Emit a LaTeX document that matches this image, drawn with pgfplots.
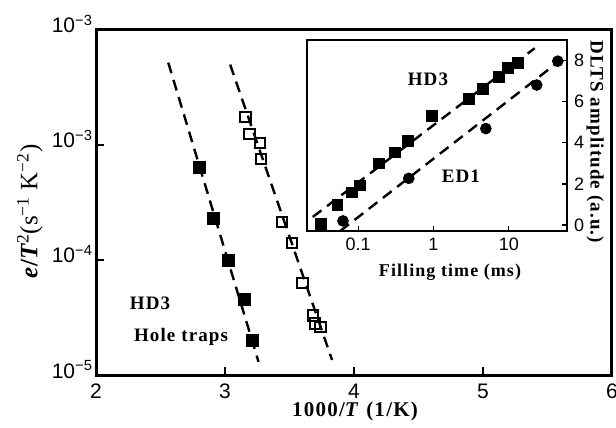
\documentclass[border=0pt]{standalone}
\usepackage{fontspec}
\setmainfont{Liberation Serif}
\newfontfamily\sansf{Liberation Sans}
\newfontfamily\lblf[LetterSpace=6]{Liberation Serif}
\usepackage{pgfplots}
\pgfplotsset{compat=1.18}
\begin{document}
\begin{tikzpicture}
\useasboundingbox (0pt,0pt) rectangle (308pt,214pt);
\begin{axis}[
  at={(48pt,26.5pt)}, anchor=south west, scale only axis,
  width=258pt, height=172.5pt,
  xmin=2, xmax=6, ymode=log, ymin=1e-5, ymax=1e-2,
  xtick={2,3,4,5,6}, xticklabels={2,3,4,5,6},
  ytick={1e-5,1e-4,1e-3,1e-2},
  yticklabels={10\textsuperscript{−5},10\textsuperscript{−4},10\textsuperscript{−3},10\textsuperscript{−3}},
  xtick pos=lower, ytick pos=left, tick align=inside,
  major tick length=4pt, minor tick length=0pt,
  axis line style={line width=1.5pt},
  every tick/.style={black, line width=0.8pt},
  tick label style={font=\sansf\fontsize{10.5}{12}\selectfont},
  yticklabel style={anchor=base east, xshift=2pt, yshift=-1.5pt},
  xticklabel style={yshift=-1pt},
  xlabel={\lblf\bfseries 1000/\textit{T} (1/K)},
  xlabel style={at={(axis description cs:0.502,-0.107)}, anchor=center, font=\fontsize{10.5}{12}\selectfont},
  ylabel={\textbf{\textit{e}/\textit{T}}\textsuperscript{2}(s\textsuperscript{−1} K\textsuperscript{−2})},
  ylabel style={at={(axis description cs:-0.128,0.475)}, anchor=center, font=\fontsize{12.5}{14}\selectfont},
  clip=false,
]
\addplot[black, line width=1.2pt, dash pattern=on 5.5pt off 3.5pt] coordinates {(2.56,5.2e-3) (3.26,1.3e-5)};
\addplot[black, line width=1.2pt, dash pattern=on 5.5pt off 3.5pt] coordinates {(3.04,5.0e-3) (3.83,1.35e-5)};
\addplot[only marks, mark=square*, mark size=3pt, black] coordinates {
 (2.80,6.4e-4) (2.91,2.3e-4) (3.03,1.0e-4) (3.15,4.5e-5) (3.21,2.0e-5)};
\addplot[only marks, mark=square, mark size=2.6pt, black, line width=1pt, mark options={fill=white}] coordinates {
 (3.16,1.75e-3) (3.19,1.25e-3) (3.27,1.04e-3) (3.28,7.6e-4) (3.44,2.14e-4)
 (3.52,1.4e-4) (3.60,6.3e-5) (3.68,3.3e-5) (3.70,2.8e-5) (3.74,2.6e-5)};
\node[anchor=west, font=\lblf\bfseries\fontsize{9.5}{11}\selectfont] at (axis description cs:0.052,0.209) {HD3};
\node[anchor=west, font=\lblf\bfseries\fontsize{9.5}{11}\selectfont] at (axis description cs:0.06,0.11) {Hole traps};
\end{axis}
\begin{axis}[
  at={(153.5pt,98.5pt)}, anchor=south west, scale only axis,
  width=130pt, height=95.5pt,
  axis background/.style={fill=white},
  xmode=log, xmin=0.021, xmax=59, ymin=-0.29, ymax=9,
  xtick={0.1,1,10}, xticklabels={0.1,1,10},
  ytick={0,2,4,6,8}, yticklabels={0,2,4,6,8},
  xtick pos=lower, ytick pos=right, yticklabel pos=right, tick align=inside,
  major tick length=2.5pt, minor tick length=0pt,
  axis line style={line width=0.6pt},
  every tick/.style={black, line width=0.6pt},
  tick label style={font=\sansf\fontsize{9}{10}\selectfont},
  clip=false,
]
\addplot[black, line width=1.2pt, dash pattern=on 5.5pt off 3.5pt] coordinates {(0.025,0.39) (22,8.6)};
\addplot[black, line width=1.2pt, dash pattern=on 5.5pt off 3.5pt] coordinates {(0.058,-0.29) (43,7.87)};
\addplot[only marks, mark=square*, mark size=2.7pt, black] coordinates {
 (0.032,0.05) (0.053,0.97) (0.083,1.59) (0.106,1.93) (0.19,3.0) (0.31,3.53)
 (0.46,4.1) (0.95,5.31) (2.95,6.14) (4.5,6.62) (7.4,7.2) (9.7,7.63) (13.2,7.87)};
\addplot[only marks, mark=*, mark size=2.7pt, black] coordinates {
 (0.063,0.2) (0.47,2.27) (4.95,4.69) (23.4,6.81) (44.5,7.97)};
\node[font=\lblf\bfseries\fontsize{9.5}{11}\selectfont] at (axis description cs:0.465,0.796) {HD3};
\node[font=\lblf\bfseries\fontsize{9.5}{11}\selectfont] at (axis description cs:0.592,0.288) {ED1};
\node[font=\lblf\bfseries\fontsize{9}{11}\selectfont] at (axis description cs:0.55,-0.215) {Filling time (ms)};
\node[rotate=-90, font=\lblf\bfseries\fontsize{9.5}{11}\selectfont] at (axis description cs:1.108,0.466) {DLTS amplitude (a.u.)};
\end{axis}
\end{tikzpicture}
\end{document}
